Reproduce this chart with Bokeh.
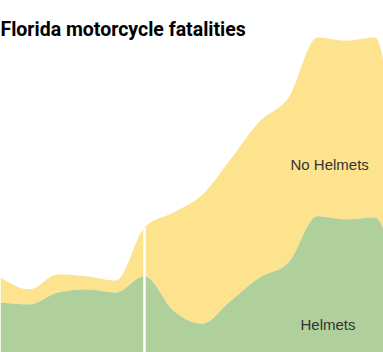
import numpy as np
from bokeh.plotting import figure
from bokeh.models import Range1d, Label
from bokeh.embed import file_html
from bokeh.resources import INLINE

# Data
years = [1995, 1996, 1997, 1998, 1999, 2000, 2001, 2002, 2003, 2004, 2005, 2006, 2007, 2008, 2009]
helmets = [128, 125, 144, 149, 144, 170, 115, 94, 131, 168, 192, 266, 261, 264, 104]
no_helmets = [40, 24, 29, 21, 19, 78, 157, 206, 227, 250, 264, 286, 286, 288, 141]
repeal_year = 2000
title_text = "Florida motorcycle fatalities"
label_no = "No Helmets"
label_yes = "Helmets"


def monotone(xs, ys, n=24):
    xs = np.asarray(xs, float)
    ys = np.asarray(ys, float)
    h = np.diff(xs)
    s = np.diff(ys) / h
    m = np.zeros_like(ys)
    for i in range(1, len(xs) - 1):
        p = (s[i - 1] * h[i] + s[i] * h[i - 1]) / (h[i - 1] + h[i])
        m[i] = (np.sign(s[i - 1]) + np.sign(s[i])) * min(abs(s[i - 1]), abs(s[i]), 0.5 * abs(p))
    m[0] = (3 * s[0] - m[1]) / 2 if len(xs) > 2 else s[0]
    m[-1] = (3 * s[-1] - m[-2]) / 2 if len(xs) > 2 else s[-1]
    ox, oy = [], []
    for i in range(len(xs) - 1):
        t = np.linspace(0, 1, n, endpoint=(i == len(xs) - 2))
        h00 = 2 * t**3 - 3 * t**2 + 1
        h10 = t**3 - 2 * t**2 + t
        h01 = -2 * t**3 + 3 * t**2
        h11 = t**3 - t**2
        ox.extend(xs[i] + t * h[i])
        oy.extend(h00 * ys[i] + h10 * h[i] * m[i] + h01 * ys[i + 1] + h11 * h[i] * m[i + 1])
    return np.array(ox), np.array(oy)


totals = [a + b for a, b in zip(helmets, no_helmets)]
cx, c_help = monotone(years, helmets)
_, c_tot = monotone(years, totals)

W, H = 383, 352
p = figure(width=W, height=H, output_backend="svg", toolbar_location=None,
           x_range=Range1d(1995, 1995 + 383 / 28.8), y_range=Range1d(48, 611.2),
           min_border=0, min_border_left=0, min_border_right=0,
           min_border_top=0, min_border_bottom=0)
p.axis.visible = False
p.xgrid.visible = False
p.ygrid.visible = False
p.outline_line_color = None
p.background_fill_color = "white"
p.border_fill_color = "white"

p.varea(x=cx, y1=c_help, y2=c_tot, fill_color="#FEE38E")
p.varea(x=cx, y1=np.zeros_like(cx), y2=c_help, fill_color="#B0D09B")

ri = years.index(repeal_year)
p.segment(x0=[repeal_year], y0=[0], x1=[repeal_year], y1=[totals[ri]],
          line_color="white", line_width=2.5)

p.add_layout(Label(x=0, y=323, x_units="screen", y_units="screen", text=title_text,
                   text_font="Roboto", text_font_style="bold", text_font_size="19.5px",
                   text_color="#000000", text_baseline="alphabetic"))
p.add_layout(Label(x=290, y=188, x_units="screen", y_units="screen", text=label_no,
                   text_font="Liberation Sans", text_font_size="15px",
                   text_color="#333333", text_baseline="alphabetic"))
p.add_layout(Label(x=300, y=28, x_units="screen", y_units="screen", text=label_yes,
                   text_font="Liberation Sans", text_font_size="15px",
                   text_color="#333333", text_baseline="alphabetic"))

open("out.html", "w").write(file_html(p, INLINE))
